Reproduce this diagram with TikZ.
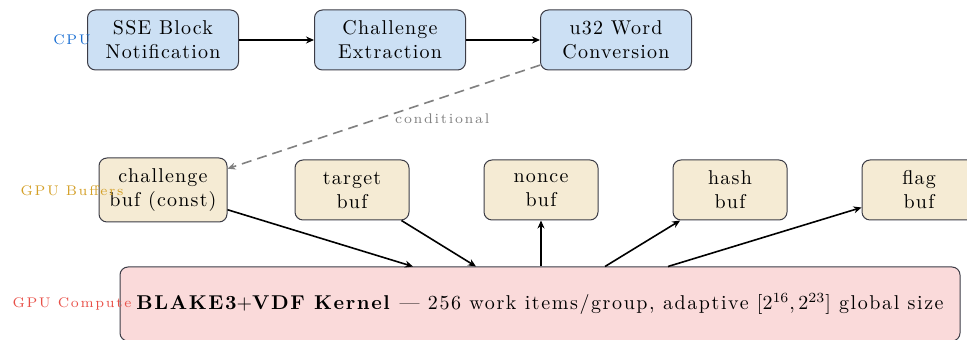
\documentclass[tikz,border=0pt]{standalone}
\usepackage{fontspec}
\usetikzlibrary{arrows.meta,calc}
% Latin Modern with slightly opened-up letter spacing
\setmainfont{lmroman10-regular.otf}[
  BoldFont=lmroman10-bold.otf,
  ItalicFont=lmroman10-italic.otf,
  BoldItalicFont=lmroman10-bolditalic.otf,
  LetterSpace=6]
\newfontfamily\lanefont{lmroman7-regular.otf}[LetterSpace=12]
\definecolor{cpufill}{RGB}{204,224,244}
\definecolor{buffill}{RGB}{245,235,212}
\definecolor{kerfill}{RGB}{250,218,218}
\definecolor{boxline}{RGB}{60,60,70}
\definecolor{cpucol}{RGB}{25,110,210}
\definecolor{bufcol}{RGB}{212,160,40}
\definecolor{kercol}{RGB}{232,80,72}
\tikzset{
  box/.style={draw=boxline, line width=0.5pt, rounded corners=4pt, align=center, inner sep=2pt},
  cpubox/.style={box, fill=cpufill, minimum width=75.5pt, minimum height=30pt},
  bufbox/.style={box, fill=buffill, minimum width=57pt, minimum height=30pt},
  kerbox/.style={box, fill=kerfill, minimum width=420pt, minimum height=37pt, font=\addfontfeatures{LetterSpace=8}},
  flow/.style={-{Stealth[length=4pt,width=3.5pt]}, line width=0.8pt, black},
  cond/.style={-{Stealth[length=4pt,width=3.5pt]}, line width=0.8pt, dash pattern=on 5pt off 3pt, gray},
  lane/.style={font=\lanefont\scriptsize},
}
\begin{document}
\begin{tikzpicture}[x=0.5pt,y=-0.5pt]
  \useasboundingbox (0,0) rectangle (967,340);
  % CPU stage
  \node[cpubox] (sse) at (163,40) {SSE Block\\Notification};
  \node[cpubox] (ext) at (390,40) {Challenge\\Extraction};
  \node[cpubox] (u32) at (616,40) {u32 Word\\Conversion};
  % GPU buffers
  \node[bufbox, minimum width=64pt, minimum height=32pt] (chal) at (163,190) {challenge\\buf (const)};
  \node[bufbox] (tgt) at (352,190) {target\\buf};
  \node[bufbox] (non) at (541,190) {nonce\\buf};
  \node[bufbox] (hsh) at (730,190) {hash\\buf};
  \node[bufbox] (flg) at (919,190) {flag\\buf};
  % GPU kernel
  \node[kerbox] (ker) at (540,304) {\textbf{BLAKE3$+$VDF Kernel} --- 256 work items/group, adaptive $[2^{16},2^{23}]$ global size};
  \coordinate (k1) at ($(ker.north)+(-127,0)$);
  \coordinate (k2) at ($(ker.north)+(-64,0)$);
  \coordinate (k3) at ($(ker.north)+(1,0)$);
  \coordinate (k4) at ($(ker.north)+(65,0)$);
  \coordinate (k5) at ($(ker.north)+(128,0)$);
  % lane labels
  \node[lane, text=cpucol] (lcpu) at (72,40) {CPU};
  \node[lane, text=bufcol] (lbuf) at (72,191) {GPU Buffers};
  \node[lane, text=kercol] (lker) at (72,304) {GPU Compute};
  % connectors
  \draw[flow] (sse) -- (ext);
  \draw[flow] (ext) -- (u32);
  \draw[cond] (u32) -- node[midway, right, font=\lanefont\scriptsize, text=gray, yshift=-1pt, xshift=2pt] {conditional} (chal);
  \draw[flow] (chal) -- (k1);
  \draw[flow] (tgt) -- (k2);
  \draw[flow] (k3) -- (non);
  \draw[flow] (k4) -- (hsh);
  \draw[flow] (k5) -- (flg);
\end{tikzpicture}
\end{document}
